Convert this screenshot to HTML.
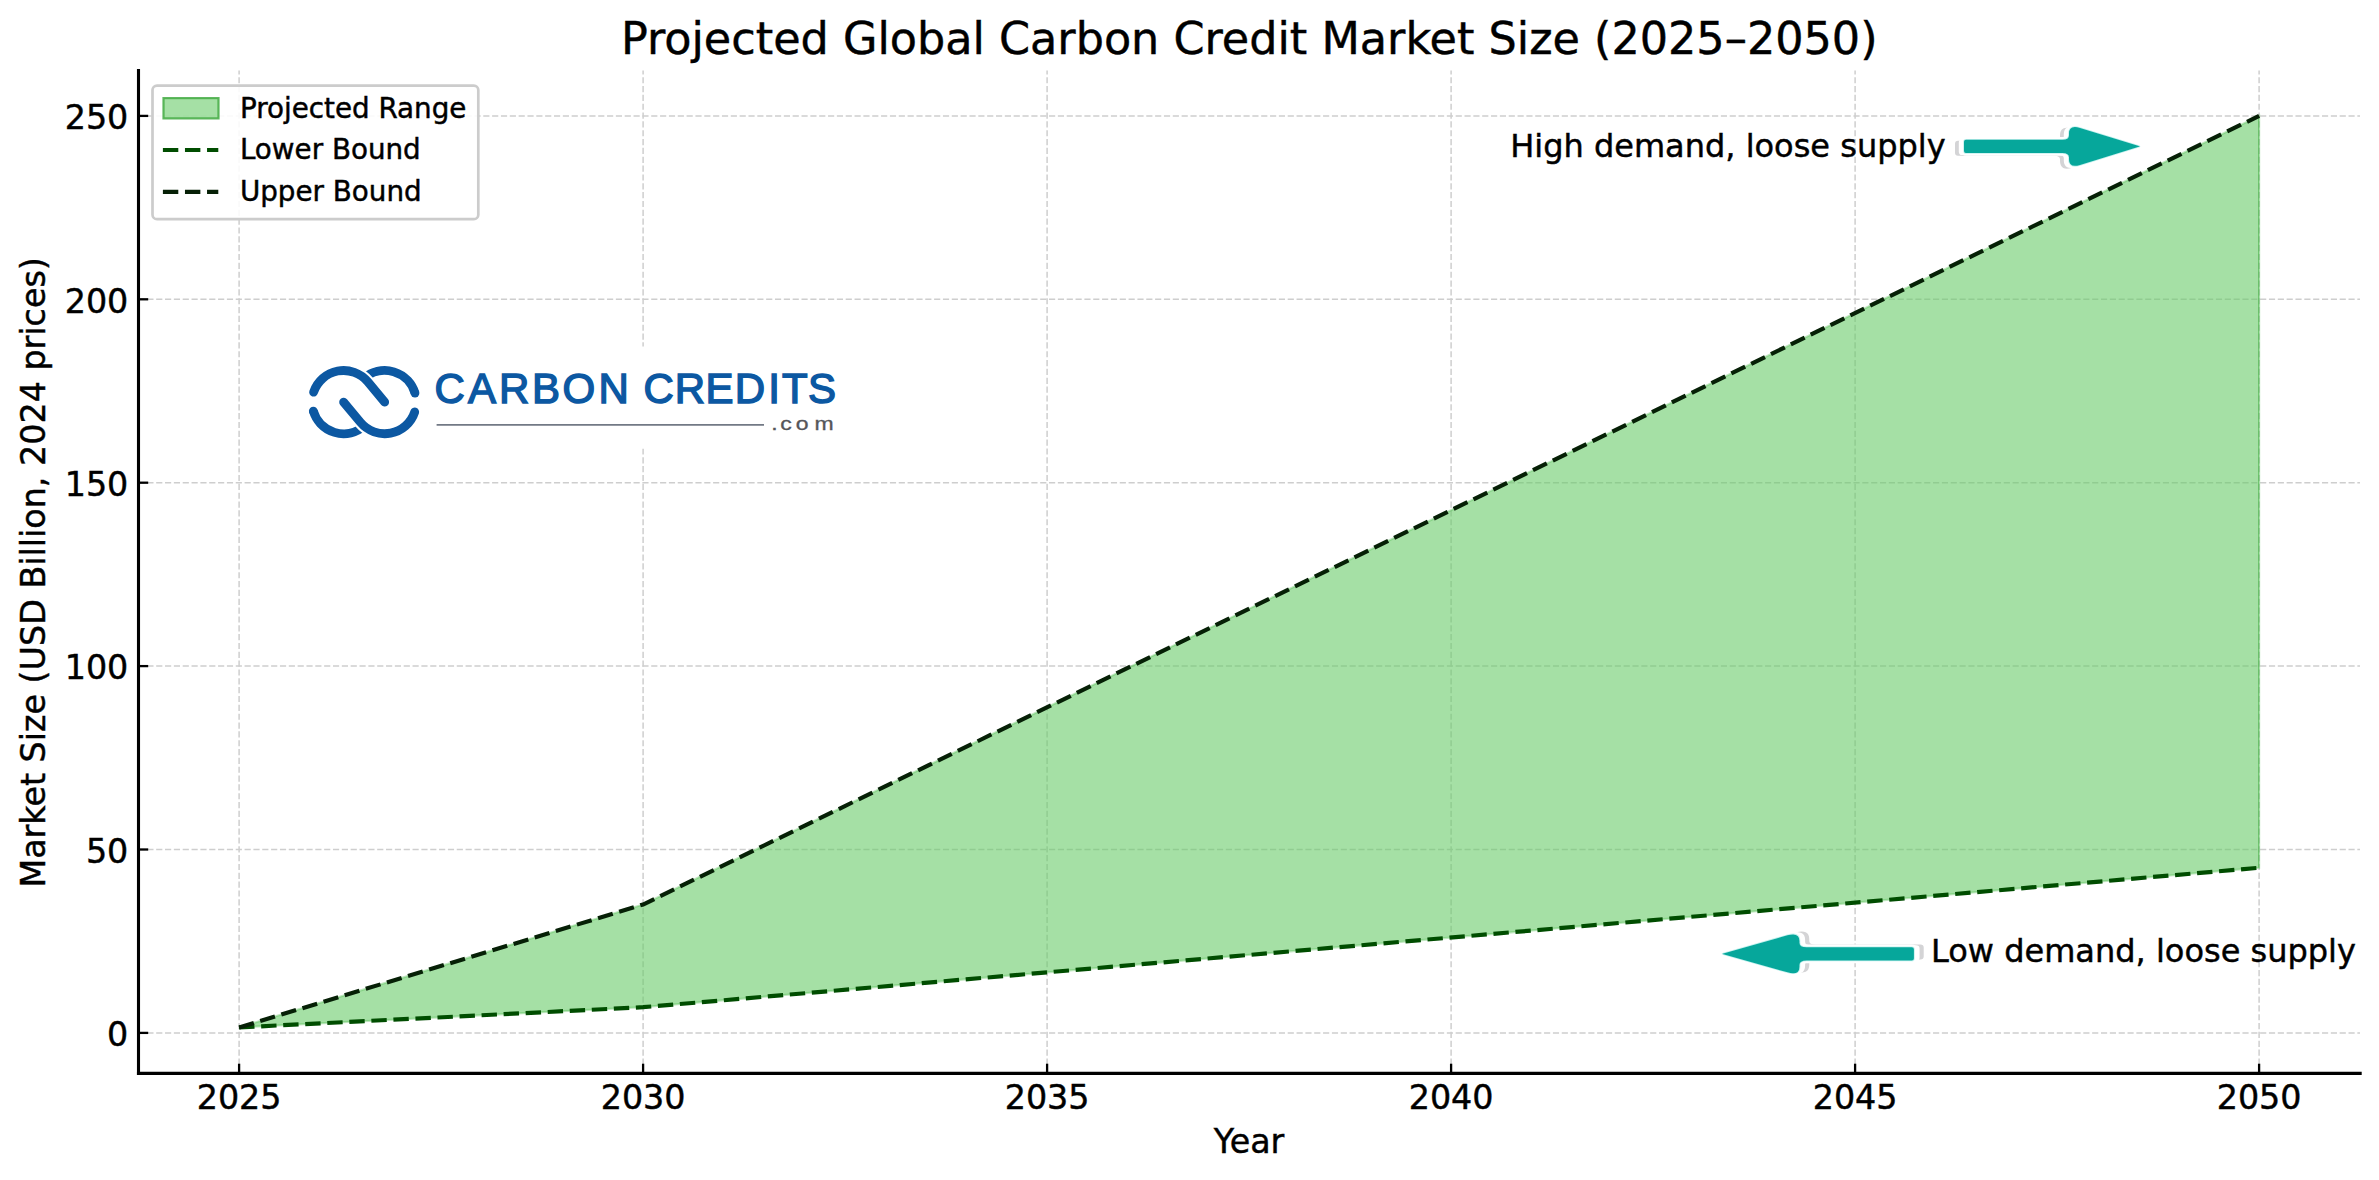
<!DOCTYPE html>
<html lang="en"><head><meta charset="utf-8"><title>Projected Global Carbon Credit Market Size (2025–2050)</title>
<style>html,body{margin:0;padding:0;background:#fff}body{width:2379px;height:1180px;overflow:hidden}svg{display:block}text{font-family:"DejaVu Sans","Liberation Sans",sans-serif;fill:#000;stroke:#000;stroke-width:0.45px}.lg{font-family:"Liberation Sans",sans-serif}</style></head><body>
<svg width="2379" height="1180" viewBox="0 0 2379 1180">
<rect width="2379" height="1180" fill="#fff"/>
<g stroke="#cecece" stroke-width="1.5" stroke-dasharray="6.17 2.67" fill="none">
<path d="M239.1 1073.4V70.4"/>
<path d="M643.1 1073.4V70.4"/>
<path d="M1047.1 1073.4V70.4"/>
<path d="M1451.1 1073.4V70.4"/>
<path d="M1855.1 1073.4V70.4"/>
<path d="M2259.1 1073.4V70.4"/>
<path d="M138.5 1032.9H2360.0"/>
<path d="M138.5 849.5H2360.0"/>
<path d="M138.5 666.1H2360.0"/>
<path d="M138.5 482.7H2360.0"/>
<path d="M138.5 299.3H2360.0"/>
<path d="M138.5 115.9H2360.0"/>
</g>
<path d="M239.1 1027.4 L643.1 1007.2 L2259.1 867.8 L2259.1 115.9 L643.1 904.5 L239.1 1027.4Z" fill="#69cb69" fill-opacity="0.6" stroke="#58c058" stroke-opacity="0.38" stroke-width="2.2"/>
<path d="M2258.7 867.8V115.9" stroke="#3aa63a" stroke-opacity="0.3" stroke-width="1.4" fill="none"/>
<path d="M239.1 1027.4 L643.1 1007.2 L2259.1 867.8" fill="none" stroke="#004d00" stroke-width="4.17" stroke-dasharray="15.4 6.67"/>
<path d="M239.1 1027.4 L643.1 904.5 L2259.1 115.9" fill="none" stroke="#062006" stroke-width="4.17" stroke-dasharray="15.4 6.67"/>
<g stroke="#000" fill="none">
<path d="M138.50 69.0V1075.0" stroke-width="3.1"/>
<path d="M136.95 1073.4H2361.7" stroke-width="3.1"/>
<path d="M239.1 1073.4v-9.7" stroke-width="2.3"/>
<path d="M643.1 1073.4v-9.7" stroke-width="2.3"/>
<path d="M1047.1 1073.4v-9.7" stroke-width="2.3"/>
<path d="M1451.1 1073.4v-9.7" stroke-width="2.3"/>
<path d="M1855.1 1073.4v-9.7" stroke-width="2.3"/>
<path d="M2259.1 1073.4v-9.7" stroke-width="2.3"/>
<path d="M138.5 1032.9h9.7" stroke-width="2.3"/>
<path d="M138.5 849.5h9.7" stroke-width="2.3"/>
<path d="M138.5 666.1h9.7" stroke-width="2.3"/>
<path d="M138.5 482.7h9.7" stroke-width="2.3"/>
<path d="M138.5 299.3h9.7" stroke-width="2.3"/>
<path d="M138.5 115.9h9.7" stroke-width="2.3"/>
</g>
<g font-size="33.33px">
<text x="239.1" y="1108.8" text-anchor="middle">2025</text>
<text x="643.1" y="1108.8" text-anchor="middle">2030</text>
<text x="1047.1" y="1108.8" text-anchor="middle">2035</text>
<text x="1451.1" y="1108.8" text-anchor="middle">2040</text>
<text x="1855.1" y="1108.8" text-anchor="middle">2045</text>
<text x="2259.1" y="1108.8" text-anchor="middle">2050</text>
<text x="128.3" y="1046.1" text-anchor="end">0</text>
<text x="128.3" y="862.7" text-anchor="end">50</text>
<text x="128.3" y="679.3" text-anchor="end">100</text>
<text x="128.3" y="495.9" text-anchor="end">150</text>
<text x="128.3" y="312.5" text-anchor="end">200</text>
<text x="128.3" y="129.1" text-anchor="end">250</text>
</g>
<text x="1249" y="1152.5" font-size="33.33px" text-anchor="middle">Year</text>
<text transform="translate(44.7 572.4) rotate(-90)" font-size="33.33px" text-anchor="middle">Market Size (USD Billion, 2024 prices)</text>
<text x="1249.2" y="53.9" font-size="44.5px" text-anchor="middle">Projected Global Carbon Credit Market Size (2025–2050)</text>
<rect x="152.5" y="85.6" width="325.8" height="133.6" rx="4.5" fill="#fff" fill-opacity="0.88" stroke="#ccc" stroke-width="2.7"/>
<rect x="163.5" y="98.1" width="55" height="20.3" fill="#69cb69" fill-opacity="0.6" stroke="#3aa63a" stroke-opacity="0.8" stroke-width="2.2"/>
<path d="M162.9 150H218.3" stroke="#004d00" stroke-width="4.17" stroke-dasharray="15.4 6.67"/>
<path d="M162.9 191.8H218.3" stroke="#062006" stroke-width="4.17" stroke-dasharray="15.4 6.67"/>
<g font-size="27.78px"><text x="239.9" y="117.6">Projected Range</text><text x="239.9" y="159.3">Lower Bound</text><text x="239.9" y="200.9">Upper Bound</text></g>
<text x="1510.2" y="156.7" font-size="32px">High demand, loose supply</text>
<text x="1931" y="962.3" font-size="32px">Low demand, loose supply</text>
<g transform="translate(1964.00 146.40) scale(1 1)"><path d="M0 -4.55Q0 -6.55 2 -6.55H98.50Q105.00 -6.55 105.00 -11.05V-12.89Q105.00 -21.89 116.00 -18.51L174.80 -0.46Q176.30 0 174.80 0.46L116.00 18.51Q105.00 21.89 105.00 12.89V11.05Q105.00 6.55 98.50 6.55H2Q0 6.55 0 4.55 Z" transform="translate(-8 1.8)" fill="#d4d4d6" stroke="#d4d4d6" stroke-width="2" stroke-linejoin="round"/><path d="M0 -4.55Q0 -6.55 2 -6.55H98.50Q105.00 -6.55 105.00 -11.05V-12.89Q105.00 -21.89 116.00 -18.51L174.80 -0.46Q176.30 0 174.80 0.46L116.00 18.51Q105.00 21.89 105.00 12.89V11.05Q105.00 6.55 98.50 6.55H2Q0 6.55 0 4.55 Z" transform="translate(-4 0.9)" fill="#fff" stroke="#fff" stroke-width="2.4" stroke-linejoin="round"/><path d="M0 -4.55Q0 -6.55 2 -6.55H98.50Q105.00 -6.55 105.00 -11.05V-12.89Q105.00 -21.89 116.00 -18.51L174.80 -0.46Q176.30 0 174.80 0.46L116.00 18.51Q105.00 21.89 105.00 12.89V11.05Q105.00 6.55 98.50 6.55H2Q0 6.55 0 4.55 Z" fill="#fff" stroke="#fff" stroke-width="5.5" stroke-linejoin="round"/><path d="M0 -4.55Q0 -6.55 2 -6.55H98.50Q105.00 -6.55 105.00 -11.05V-12.89Q105.00 -21.89 116.00 -18.51L174.80 -0.46Q176.30 0 174.80 0.46L116.00 18.51Q105.00 21.89 105.00 12.89V11.05Q105.00 6.55 98.50 6.55H2Q0 6.55 0 4.55 Z" fill="#06a79b" stroke="#c4f1ee" stroke-width="1.6" stroke-linejoin="round"/><path d="M0 -4.55Q0 -6.55 2 -6.55H98.50Q105.00 -6.55 105.00 -11.05V-12.89Q105.00 -21.89 116.00 -18.51L174.80 -0.46Q176.30 0 174.80 0.46L116.00 18.51Q105.00 21.89 105.00 12.89V11.05Q105.00 6.55 98.50 6.55H2Q0 6.55 0 4.55 Z" fill="#06a79b"/></g>
<g transform="translate(1913.90 953.85) scale(-1.09 -1)"><path d="M0 -4.55Q0 -6.55 2 -6.55H98.50Q105.00 -6.55 105.00 -11.05V-12.89Q105.00 -21.89 116.00 -18.51L174.80 -0.46Q176.30 0 174.80 0.46L116.00 18.51Q105.00 21.89 105.00 12.89V11.05Q105.00 6.55 98.50 6.55H2Q0 6.55 0 4.55 Z" transform="translate(-8 1.8)" fill="#d4d4d6" stroke="#d4d4d6" stroke-width="2" stroke-linejoin="round"/><path d="M0 -4.55Q0 -6.55 2 -6.55H98.50Q105.00 -6.55 105.00 -11.05V-12.89Q105.00 -21.89 116.00 -18.51L174.80 -0.46Q176.30 0 174.80 0.46L116.00 18.51Q105.00 21.89 105.00 12.89V11.05Q105.00 6.55 98.50 6.55H2Q0 6.55 0 4.55 Z" transform="translate(-4 0.9)" fill="#fff" stroke="#fff" stroke-width="2.4" stroke-linejoin="round"/><path d="M0 -4.55Q0 -6.55 2 -6.55H98.50Q105.00 -6.55 105.00 -11.05V-12.89Q105.00 -21.89 116.00 -18.51L174.80 -0.46Q176.30 0 174.80 0.46L116.00 18.51Q105.00 21.89 105.00 12.89V11.05Q105.00 6.55 98.50 6.55H2Q0 6.55 0 4.55 Z" fill="#fff" stroke="#fff" stroke-width="5.5" stroke-linejoin="round"/><path d="M0 -4.55Q0 -6.55 2 -6.55H98.50Q105.00 -6.55 105.00 -11.05V-12.89Q105.00 -21.89 116.00 -18.51L174.80 -0.46Q176.30 0 174.80 0.46L116.00 18.51Q105.00 21.89 105.00 12.89V11.05Q105.00 6.55 98.50 6.55H2Q0 6.55 0 4.55 Z" fill="#06a79b" stroke="#c4f1ee" stroke-width="1.6" stroke-linejoin="round"/><path d="M0 -4.55Q0 -6.55 2 -6.55H98.50Q105.00 -6.55 105.00 -11.05V-12.89Q105.00 -21.89 116.00 -18.51L174.80 -0.46Q176.30 0 174.80 0.46L116.00 18.51Q105.00 21.89 105.00 12.89V11.05Q105.00 6.55 98.50 6.55H2Q0 6.55 0 4.55 Z" fill="#06a79b"/></g>
<rect x="296" y="346.5" width="552" height="102" fill="#fff"/>
<g fill="none" stroke="#0c58a2" stroke-width="8.8">
<path d="M414.99 393.10A31.60 31.60 0 0 0 364.49 377.80"/><path d="M313.31 411.10A31.60 31.60 0 0 0 363.81 426.40"/>
<circle cx="414.99" cy="393.10" r="4.40" fill="#0c58a2" stroke="none"/><circle cx="313.31" cy="411.10" r="4.40" fill="#0c58a2" stroke="none"/>
<path d="M313.59 392.20A31.60 31.60 0 0 1 367.90 381.89L384.70 402.10" stroke="#fff" stroke-width="12.8" stroke-linecap="round"/><path d="M343.60 402.10L360.40 422.31A31.60 31.60 0 0 0 414.71 412.00" stroke="#fff" stroke-width="12.8" stroke-linecap="round"/>
<path d="M313.59 392.20A31.60 31.60 0 0 1 367.90 381.89L384.70 402.10" stroke-linecap="round"/><path d="M343.60 402.10L360.40 422.31A31.60 31.60 0 0 0 414.71 412.00" stroke-linecap="round"/>
</g>
<text class="lg" x="434.4 468.1 499.0 531.9 562.6 598.6 628.6 643.5 674.8 705.5 734.7 768.3 781.9 807.9" y="403.3" font-size="42.0px" style="fill:#0c58a2;stroke:#0c58a2;stroke-width:1.45px">CARBON CREDITS</text>
<path d="M436.6 424.9H764" stroke="#727985" stroke-width="1.9"/>
<text class="lg" transform="scale(1.25 1)" x="616.96 624.29 636.64 651.57" y="430.5" font-size="18.4px" style="fill:#55565a;stroke:#55565a;stroke-width:0.3px">.com</text>
</svg></body></html>
